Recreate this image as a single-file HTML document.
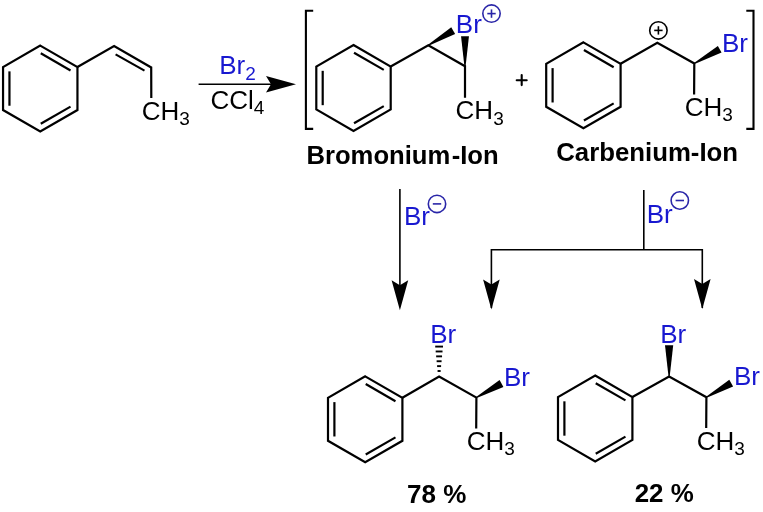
<!DOCTYPE html>
<html><head><meta charset="utf-8"><style>
html,body{margin:0;padding:0;background:#fff;}
body{width:763px;height:512px;overflow:hidden;}
svg{display:block;will-change:transform;font-family:"Liberation Sans",sans-serif;}
</style></head><body>
<svg width="763" height="512" viewBox="0 0 763 512">
<rect width="763" height="512" fill="#fff"/>
<polygon points="40.25,45.59 77.45,67.07 77.45,110.03 40.25,131.51 3.05,110.03 3.05,67.07" fill="none" stroke="#000" stroke-width="2.2" stroke-linejoin="miter"/>
<line x1="40.77" y1="53.28" x2="70.53" y2="70.47" stroke="#000" stroke-width="2.2"/>
<line x1="70.53" y1="106.63" x2="40.77" y2="123.82" stroke="#000" stroke-width="2.2"/>
<line x1="9.45" y1="105.73" x2="9.45" y2="71.37" stroke="#000" stroke-width="2.2"/>
<polyline points="77.45,67.07 114.10,46.00 151.20,67.50 151.30,98.00" fill="none" stroke="#000" stroke-width="2.2" stroke-linejoin="miter"/>
<line x1="115.60" y1="54.40" x2="144.50" y2="70.60" stroke="#000" stroke-width="2.2"/>
<text x="141.80" y="120.00" font-size="26" fill="#000" font-weight="normal" text-anchor="start">CH<tspan font-size="19" dy="5.4">3</tspan></text>
<line x1="198.60" y1="84.20" x2="272.00" y2="84.20" stroke="#000" stroke-width="1.6"/>
<polygon points="296.00,84.20 266.00,92.50 271.00,84.20 266.00,75.90" fill="#000"/>
<text x="219.20" y="74.10" font-size="26" fill="#1818d0" font-weight="normal" text-anchor="start">Br<tspan font-size="19" dy="5.4">2</tspan></text>
<text x="210.40" y="108.60" font-size="26" fill="#000" font-weight="normal" text-anchor="start">CCl<tspan font-size="19" dy="5.0">4</tspan></text>
<polyline points="313.2,10.75 305.9,10.75 305.9,128.9 313.2,128.9" fill="none" stroke="#000" stroke-width="2.1"/>
<polyline points="746.3,10.75 753.5,10.75 753.5,128.9 746.3,128.9" fill="none" stroke="#000" stroke-width="2.1"/>
<polygon points="353.50,45.04 390.70,66.52 390.70,109.48 353.50,130.96 316.30,109.48 316.30,66.52" fill="none" stroke="#000" stroke-width="2.2" stroke-linejoin="miter"/>
<line x1="354.02" y1="52.73" x2="383.78" y2="69.92" stroke="#000" stroke-width="2.2"/>
<line x1="383.78" y1="106.08" x2="354.02" y2="123.27" stroke="#000" stroke-width="2.2"/>
<line x1="322.70" y1="105.18" x2="322.70" y2="70.82" stroke="#000" stroke-width="2.2"/>
<polyline points="390.70,66.52 428.30,45.20 465.00,66.20 465.00,97.80" fill="none" stroke="#000" stroke-width="2.2" stroke-linejoin="miter"/>
<polygon points="428.60,45.72 455.12,33.88 451.28,27.32 428.00,44.68" fill="#000"/>
<polygon points="465.60,66.20 468.95,36.20 461.05,36.20 464.40,66.20" fill="#000"/>
<text x="455.80" y="33.00" font-size="26" fill="#1818d0" font-weight="normal" text-anchor="start">Br</text>
<circle cx="491.5" cy="13.6" r="8.7" fill="none" stroke="#2a26a8" stroke-width="1.6"/>
<line x1="487.30" y1="13.60" x2="495.70" y2="13.60" stroke="#2a26a8" stroke-width="1.6"/>
<line x1="491.50" y1="9.40" x2="491.50" y2="17.80" stroke="#2a26a8" stroke-width="1.6"/>
<text x="455.60" y="119.20" font-size="26" fill="#000" font-weight="normal" text-anchor="start">CH<tspan font-size="19" dy="5.4">3</tspan></text>
<text x="455.80" y="33.00" font-size="26" fill="#1818d0" font-weight="normal" text-anchor="start"></text>
<path d="M516.7,80.2H526.7M521.7,75.1V85.1" stroke="#000" stroke-width="2.1" stroke-linecap="round" fill="none"/>
<polygon points="583.40,42.34 620.60,63.82 620.60,106.78 583.40,128.26 546.20,106.78 546.20,63.82" fill="none" stroke="#000" stroke-width="2.2" stroke-linejoin="miter"/>
<line x1="583.92" y1="50.03" x2="613.68" y2="67.22" stroke="#000" stroke-width="2.2"/>
<line x1="613.68" y1="103.38" x2="583.92" y2="120.57" stroke="#000" stroke-width="2.2"/>
<line x1="552.60" y1="102.48" x2="552.60" y2="68.12" stroke="#000" stroke-width="2.2"/>
<polyline points="620.60,63.82 657.30,42.70 694.30,63.50 694.10,94.50" fill="none" stroke="#000" stroke-width="2.2" stroke-linejoin="miter"/>
<polygon points="694.59,64.02 721.56,52.51 717.84,45.89 694.01,62.98" fill="#000"/>
<text x="722.00" y="51.90" font-size="26" fill="#1818d0" font-weight="normal" text-anchor="start">Br</text>
<circle cx="658.4" cy="30.4" r="8.7" fill="none" stroke="#000" stroke-width="1.6"/>
<line x1="654.20" y1="30.40" x2="662.60" y2="30.40" stroke="#000" stroke-width="1.6"/>
<line x1="658.40" y1="26.20" x2="658.40" y2="34.60" stroke="#000" stroke-width="1.6"/>
<text x="684.70" y="115.60" font-size="26" fill="#000" font-weight="normal" text-anchor="start">CH<tspan font-size="19" dy="5.4">3</tspan></text>
<text transform="translate(306.50,164.00) scale(0.9860,1)" font-size="26" fill="#000" font-weight="bold">Bromonium<tspan dx="1.5">-Ion</tspan></text>
<text transform="translate(556.20,161.00) scale(0.9920,1)" font-size="26" fill="#000" font-weight="bold">Carbenium-Ion</text>
<line x1="399.90" y1="189.00" x2="399.90" y2="286.00" stroke="#000" stroke-width="1.6"/>
<polygon points="399.90,310.30 391.60,280.30 399.90,285.30 408.20,280.30" fill="#000"/>
<text x="404.00" y="225.10" font-size="26" fill="#1818d0" font-weight="normal" text-anchor="start">Br</text>
<circle cx="437.0" cy="203.9" r="8.7" fill="none" stroke="#2a26a8" stroke-width="1.6"/>
<line x1="432.80" y1="203.90" x2="441.20" y2="203.90" stroke="#2a26a8" stroke-width="1.6"/>
<polyline points="491.4,308 491.4,249.8 702.3,249.8 702.3,308" fill="none" stroke="#000" stroke-width="1.6"/>
<line x1="643.80" y1="190.00" x2="643.80" y2="249.80" stroke="#000" stroke-width="1.6"/>
<polygon points="491.40,309.40 483.10,279.40 491.40,284.40 499.70,279.40" fill="#000"/>
<polygon points="702.30,309.10 694.00,279.10 702.30,284.10 710.60,279.10" fill="#000"/>
<text x="646.70" y="222.60" font-size="26" fill="#1818d0" font-weight="normal" text-anchor="start">Br</text>
<circle cx="679.8" cy="200.5" r="8.7" fill="none" stroke="#2a26a8" stroke-width="1.6"/>
<line x1="675.60" y1="200.50" x2="684.00" y2="200.50" stroke="#2a26a8" stroke-width="1.6"/>
<polygon points="365.20,376.34 402.40,397.82 402.40,440.78 365.20,462.26 328.00,440.78 328.00,397.82" fill="none" stroke="#000" stroke-width="2.2" stroke-linejoin="miter"/>
<line x1="365.72" y1="384.03" x2="395.48" y2="401.22" stroke="#000" stroke-width="2.2"/>
<line x1="395.48" y1="437.38" x2="365.72" y2="454.57" stroke="#000" stroke-width="2.2"/>
<line x1="334.40" y1="436.48" x2="334.40" y2="402.12" stroke="#000" stroke-width="2.2"/>
<polyline points="402.40,397.82 439.10,376.50 476.40,397.60 476.20,428.60" fill="none" stroke="#000" stroke-width="2.2" stroke-linejoin="miter"/>
<line x1="437.57" y1="371.01" x2="440.63" y2="371.01" stroke="#000" stroke-width="1.9"/>
<line x1="437.10" y1="366.13" x2="441.10" y2="366.13" stroke="#000" stroke-width="1.9"/>
<line x1="436.62" y1="361.24" x2="441.58" y2="361.24" stroke="#000" stroke-width="1.9"/>
<line x1="436.15" y1="356.36" x2="442.05" y2="356.36" stroke="#000" stroke-width="1.9"/>
<line x1="435.68" y1="351.47" x2="442.52" y2="351.47" stroke="#000" stroke-width="1.9"/>
<line x1="435.21" y1="346.58" x2="443.00" y2="346.58" stroke="#000" stroke-width="1.9"/>
<polygon points="476.69,398.12 503.41,386.90 499.59,380.10 476.11,397.08" fill="#000"/>
<text x="430.20" y="343.00" font-size="26" fill="#1818d0" font-weight="normal" text-anchor="start">Br</text>
<text x="504.00" y="385.80" font-size="26" fill="#1818d0" font-weight="normal" text-anchor="start">Br</text>
<text x="466.80" y="449.70" font-size="26" fill="#000" font-weight="normal" text-anchor="start">CH<tspan font-size="19" dy="5.4">3</tspan></text>
<text x="407.00" y="503.00" font-size="26" fill="#000" font-weight="bold" text-anchor="start">78 %</text>
<polygon points="595.20,375.54 632.40,397.02 632.40,439.98 595.20,461.46 558.00,439.98 558.00,397.02" fill="none" stroke="#000" stroke-width="2.2" stroke-linejoin="miter"/>
<line x1="595.72" y1="383.23" x2="625.48" y2="400.42" stroke="#000" stroke-width="2.2"/>
<line x1="625.48" y1="436.58" x2="595.72" y2="453.77" stroke="#000" stroke-width="2.2"/>
<line x1="564.40" y1="435.68" x2="564.40" y2="401.32" stroke="#000" stroke-width="2.2"/>
<polyline points="632.40,397.02 669.10,376.50 706.40,397.20 706.20,428.00" fill="none" stroke="#000" stroke-width="2.2" stroke-linejoin="miter"/>
<polygon points="669.70,376.50 673.20,345.30 665.00,345.30 668.50,376.50" fill="#000"/>
<polygon points="706.70,397.72 733.10,386.45 729.30,379.75 706.10,396.68" fill="#000"/>
<text x="660.20" y="342.80" font-size="26" fill="#1818d0" font-weight="normal" text-anchor="start">Br</text>
<text x="733.90" y="384.80" font-size="26" fill="#1818d0" font-weight="normal" text-anchor="start">Br</text>
<text x="696.80" y="449.70" font-size="26" fill="#000" font-weight="normal" text-anchor="start">CH<tspan font-size="19" dy="5.4">3</tspan></text>
<text transform="translate(634.70,502.00) scale(0.9970,1)" font-size="26" fill="#000" font-weight="bold">22 %</text>
</svg>
</body></html>
